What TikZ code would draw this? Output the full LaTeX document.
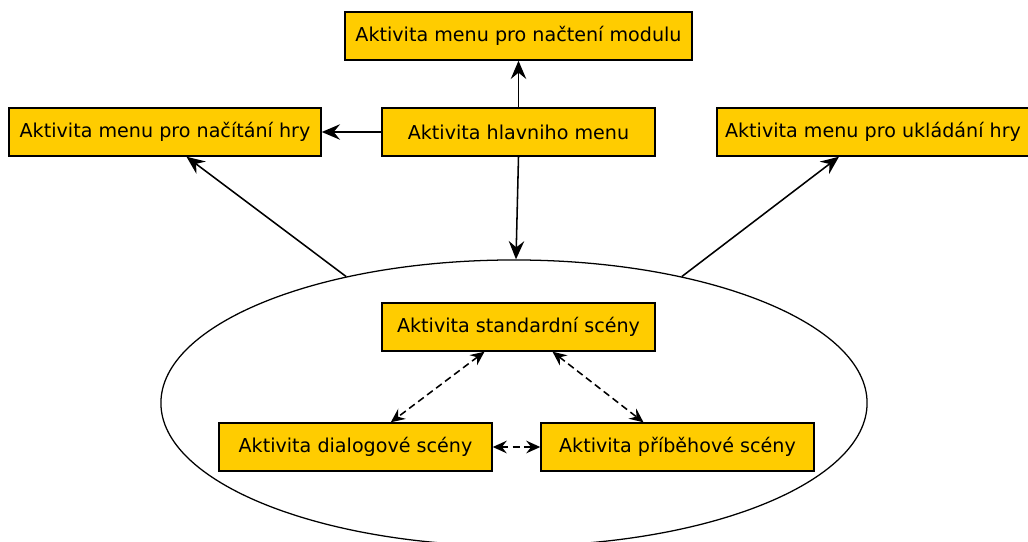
\documentclass[tikz,border=0pt]{standalone}
\usepackage{fontspec}
\setmainfont{DejaVu Sans}
\usetikzlibrary{shapes.geometric,positioning,arrows.meta}
\definecolor{activity}{HTML}{FFCC00}

\begin{document}
\begin{tikzpicture}[x=0.025cm, y=-0.025cm,
    >={Stealth[length=13pt, width=11pt, inset=4.5pt]},
    activity/.style={rectangle, draw, fill=activity, line width=1pt, inner sep=0pt,
      minimum height=1.2cm, font=\fontsize{13.6}{16}\selectfont},
    link/.style={->, line width=1.1pt},
    swap/.style={<->, dashed, dash pattern=on 5pt off 3pt, line width=1.1pt,
      >={Stealth[length=10pt, width=9pt, inset=3.5pt]}}]
    \useasboundingbox (0,0) rectangle (1028,541);
    % Scenes
    \node (scenes) [ellipse, draw, line width=0.9pt, minimum width=17.65cm, minimum height=7.15cm] at (514,403) {};
    % Nodes
    \node (modul) [activity, minimum width=8.675cm] at (518.5,36) {Aktivita menu pro načtení modulu};
    \node (hlavni) [activity, minimum width=6.825cm] at (518.5,132) {Aktivita hlavniho menu};
    \node (nacitani) [activity, minimum width=7.8cm] at (165,132) {Aktivita menu pro načítání hry};
    \node (ukladani) [activity, minimum width=7.8cm] at (873,132) {Aktivita menu pro ukládání hry};
    \node (standard) [activity, minimum width=6.825cm] at (518.5,327) {Aktivita standardní scény};
    \node (dialog) [activity, minimum width=6.825cm] at (355.5,447) {Aktivita dialogové scény};
    \node (pribeh) [activity, minimum width=6.825cm] at (677.5,447) {Aktivita příběhové scény};
    % Arrows
    \draw[link] (hlavni.north) -- (modul.south);
    \draw[link] (hlavni.west) -- (nacitani.east);
    \draw[link] (hlavni.south) -- ([xshift=0.05cm]scenes.north);
    \draw[link] (scenes.143) -- (nacitani.-49);
    \draw[link] (scenes.37) -- (ukladani.-144);
    \draw[swap] (standard.-144) -- (dialog.35);
    \draw[swap] (standard.-36) -- (pribeh.144);
    \draw[swap] (dialog.east) -- (pribeh.west);
\end{tikzpicture}
\end{document}
